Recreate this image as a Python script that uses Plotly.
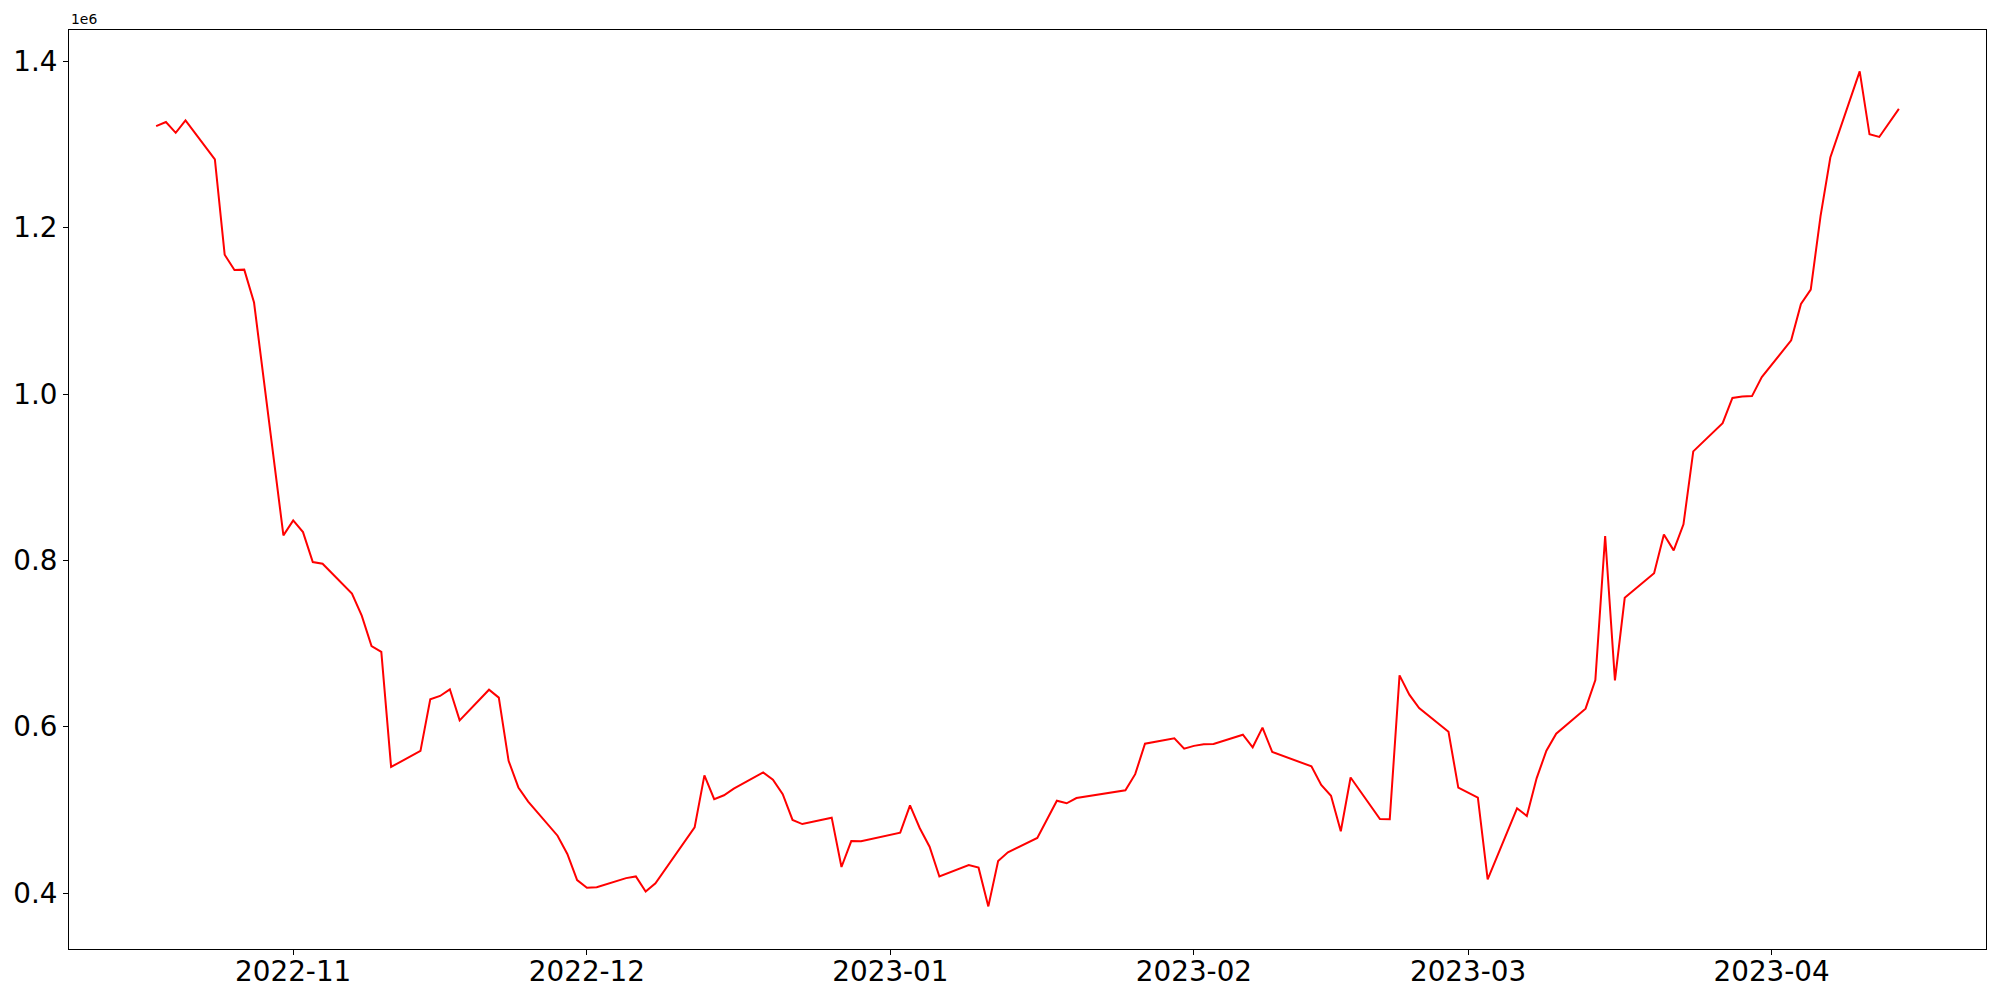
import pandas as pd
import numpy as np
import plotly.graph_objects as go

dates = [
    "2022-10-18", "2022-10-19", "2022-10-20", "2022-10-21", "2022-10-24", "2022-10-25",
    "2022-10-26", "2022-10-27", "2022-10-28", "2022-10-31", "2022-11-01", "2022-11-02",
    "2022-11-03", "2022-11-04", "2022-11-07", "2022-11-08", "2022-11-09", "2022-11-10",
    "2022-11-11", "2022-11-14", "2022-11-15", "2022-11-16", "2022-11-17", "2022-11-18",
    "2022-11-21", "2022-11-22", "2022-11-23", "2022-11-24", "2022-11-25", "2022-11-28",
    "2022-11-29", "2022-11-30", "2022-12-01", "2022-12-02", "2022-12-05", "2022-12-06",
    "2022-12-07", "2022-12-08", "2022-12-12", "2022-12-13", "2022-12-14", "2022-12-15",
    "2022-12-16", "2022-12-19", "2022-12-20", "2022-12-21", "2022-12-22", "2022-12-23",
    "2022-12-26", "2022-12-27", "2022-12-28", "2022-12-29", "2023-01-02", "2023-01-03",
    "2023-01-04", "2023-01-05", "2023-01-06", "2023-01-09", "2023-01-10", "2023-01-11",
    "2023-01-12", "2023-01-13", "2023-01-16", "2023-01-17", "2023-01-18", "2023-01-19",
    "2023-01-20", "2023-01-25", "2023-01-26", "2023-01-27", "2023-01-30", "2023-01-31",
    "2023-02-01", "2023-02-02", "2023-02-03", "2023-02-06", "2023-02-07", "2023-02-08",
    "2023-02-09", "2023-02-13", "2023-02-14", "2023-02-15", "2023-02-16", "2023-02-17",
    "2023-02-20", "2023-02-21", "2023-02-22", "2023-02-23", "2023-02-24", "2023-02-27",
    "2023-02-28", "2023-03-02", "2023-03-03", "2023-03-06", "2023-03-07", "2023-03-08",
    "2023-03-09", "2023-03-10", "2023-03-13", "2023-03-14", "2023-03-15", "2023-03-16",
    "2023-03-17", "2023-03-20", "2023-03-21", "2023-03-22", "2023-03-23", "2023-03-24",
    "2023-03-27", "2023-03-28", "2023-03-29", "2023-03-30", "2023-03-31", "2023-04-03",
    "2023-04-04", "2023-04-05", "2023-04-06", "2023-04-07", "2023-04-10", "2023-04-11",
    "2023-04-12", "2023-04-14",
]

# values in millions
values_m = [
    1.322, 1.327, 1.314, 1.329, 1.282, 1.1675,
    1.149, 1.1495, 1.110, 0.830, 0.848, 0.834,
    0.798, 0.796, 0.760, 0.7335, 0.697, 0.690,
    0.5516, 0.571, 0.633, 0.637, 0.645, 0.6077,
    0.6445, 0.635, 0.559, 0.527, 0.510, 0.469,
    0.447, 0.4157, 0.4065, 0.407, 0.418, 0.420,
    0.402, 0.4118, 0.479, 0.5416, 0.513, 0.5176,
    0.5255, 0.545, 0.5363, 0.519, 0.488, 0.483,
    0.4907, 0.4314, 0.4626, 0.4623, 0.4726, 0.5055,
    0.478, 0.4558, 0.420, 0.4338, 0.4306, 0.384,
    0.4386, 0.449, 0.4663, 0.488, 0.511, 0.508,
    0.5143, 0.5236, 0.543, 0.5796, 0.586, 0.5736,
    0.577, 0.5789, 0.5793, 0.5904, 0.5753, 0.599,
    0.5696, 0.5524, 0.530, 0.517, 0.4743, 0.539,
    0.489, 0.4887, 0.6618, 0.6385, 0.6225, 0.594,
    0.5267, 0.5147, 0.4166, 0.502, 0.4927, 0.538,
    0.5712, 0.5916, 0.6217, 0.656, 0.8293, 0.6558,
    0.755, 0.7845, 0.831, 0.812, 0.8433, 0.931,
    0.965, 0.9953, 0.9971, 0.9975, 1.0203, 1.0645,
    1.1083, 1.1255, 1.2139, 1.2843, 1.3879, 1.3122,
    1.309, 1.3428,
]

month_ticks = ["2022-11-01", "2022-12-01", "2023-01-01", "2023-02-01", "2023-03-01", "2023-04-01"]
month_labels = ["2022-11", "2022-12", "2023-01", "2023-02", "2023-03", "2023-04"]
y_ticks_m = [0.4, 0.6, 0.8, 1.0, 1.2, 1.4]
y_labels = ["0.4", "0.6", "0.8", "1.0", "1.2", "1.4"]

x = pd.to_datetime(dates)
y = np.array(values_m) * 1e6

# matplotlib-like 5% padding on x
span = x.max() - x.min()
x_range = [x.min() - span * 0.05, x.max() + span * 0.05]

fig = go.Figure(
    go.Scatter(x=x, y=y, mode="lines", line=dict(color="#ff0000", width=2))
)

axis_style = dict(
    showline=True, mirror=True, linecolor="black", linewidth=1,
    ticks="outside", ticklen=5, tickwidth=1, tickcolor="black",
    showgrid=False, zeroline=False, automargin=False,
    tickfont=dict(size=27.8, color="black"),
)

fig.update_xaxes(
    range=x_range, tickvals=pd.to_datetime(month_ticks), ticktext=month_labels,
    ticklabelstandoff=-7,
    **axis_style
)
fig.update_yaxes(
    range=[0.3328e6, 1.4376e6], tickvals=[v * 1e6 for v in y_ticks_m], ticktext=y_labels,
    **axis_style
)

fig.add_annotation(
    text="1e6", xref="paper", yref="paper", x=0, y=1,
    xanchor="left", yanchor="bottom", showarrow=False,
    font=dict(size=13.9, color="black"), yshift=1,
)

# page body has an 8px margin, so the figure is 8px smaller than the window
fig.update_layout(
    template="none",
    width=1992, height=992,
    margin=dict(l=61, r=14, t=22, b=51, autoexpand=False),
    plot_bgcolor="white", paper_bgcolor="white",
    font=dict(family="DejaVu Sans", color="black"),
    showlegend=False,
)

fig.write_html("out.html")
